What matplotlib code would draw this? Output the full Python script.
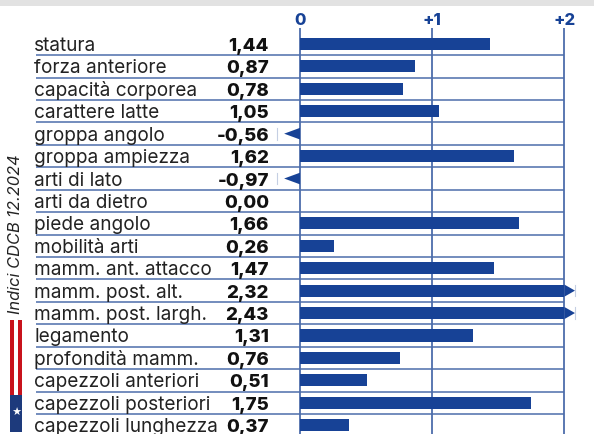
import matplotlib
matplotlib.use('Agg')
import matplotlib.pyplot as plt
from matplotlib.patches import Polygon, Rectangle

labels = ['statura', 'forza anteriore', 'capacità corporea', 'carattere latte',
          'groppa angolo', 'groppa ampiezza', 'arti di lato', 'arti da dietro',
          'piede angolo', 'mobilità arti', 'mamm. ant. attacco', 'mamm. post. alt.',
          'mamm. post. largh.', 'legamento', 'profondità mamm.', 'capezzoli anteriori',
          'capezzoli posteriori', 'capezzoli lunghezza']
values = [1.44, 0.87, 0.78, 1.05, -0.56, 1.62, -0.97, 0.00, 1.66, 0.26,
          1.47, 2.32, 2.43, 1.31, 0.76, 0.51, 1.75, 0.37]
ticks = [0, 1, 2]
tick_labels = ['0', '+1', '+2']

W, H = 594, 434
BLUE = '#174296'
LINE = '#4d6dab'
plt.rcParams['font.family'] = ['Inter', 'DejaVu Sans']

fig = plt.figure(figsize=(W / 100, H / 100), dpi=100)
ax = fig.add_axes([0, 0, 1, 1])
ax.axis('off')

# 132.2 px per unit on x, 22.42 px per row on y
ux, uy = 132.2, 22.42
ax.set_xlim(-300 / ux, (W - 300) / ux)
ax.set_ylim((H - 44) / uy, -44 / uy)


def px(x, y):
    # pixel position to fig fraction, for the decoration outside the chart
    return x / W, 1 - y / H


fig.add_artist(Rectangle(px(0, 6), 1, 6 / H, transform=fig.transFigure, color='#e2e2e2', lw=0))

# row separators
for i in range(len(labels) - 1):
    y = i + 0.5
    ax.plot([-264 / ux, 2], [y, y], color=LINE, lw=1.1, solid_capstyle='butt', zorder=1)

# vertical grid
top = -16 / uy
for t, tl in zip(ticks, tick_labels):
    ax.plot([t, t], [top, (H - 44) / uy], color=LINE, lw=1.3, solid_capstyle='butt', zorder=1)
    ax.text(t, top - 3 / uy, tl, color=BLUE, fontsize=12, fontweight='heavy', ha='center', va='baseline')

# bars
h = 0.27
base = 7 / uy
for i, (name, v) in enumerate(zip(labels, values)):
    ax.text(-266 / ux, i + base, name, color='#222222', fontsize=13.7, ha='left', va='baseline')
    ax.text(-31 / ux, i + base, f'{v:.2f}'.replace('.', ','), color='#111111', fontsize=13.4,
            fontweight='heavy', ha='right', va='baseline')
    if v > 2:
        ax.add_patch(Rectangle((0, i - h), 2, 2 * h, color=BLUE, lw=0, zorder=2))
        ax.add_patch(Polygon([(2, i - h), (2.08, i), (2, i + h)], color=BLUE, lw=0, zorder=2))
        ax.plot([2.08, 2.08], [i - 0.26, i + 0.26], color='#c5cfe3', lw=0.8)
    elif v < 0:
        ax.add_patch(Polygon([(0, i - 0.26), (-0.12, i), (0, i + 0.26)], color=BLUE, lw=0, zorder=2))
        ax.plot([-0.175, -0.175], [i - 0.26, i + 0.26], color='#c5cfe3', lw=0.8)
    else:
        ax.add_patch(Rectangle((0, i - h), v, 2 * h, color=BLUE, lw=0, zorder=2))

# side note and flag
fig.text(*px(16, 234), 'Indici CDCB 12.2024', rotation=90, style='italic', fontsize=11.8,
         color='#222222', ha='center', va='center')
for x0 in (10, 18):
    fig.add_artist(Rectangle(px(x0, 395), 4 / W, 75 / H, transform=fig.transFigure, color='#c8131c', lw=0))
fig.add_artist(Rectangle(px(10, 432), 12 / W, 37 / H, transform=fig.transFigure, color='#1d3a7c', lw=0))
fig.text(*px(16, 413), '★', color='white', fontsize=7, ha='center', va='center')

fig.savefig('out.png', dpi=100)
